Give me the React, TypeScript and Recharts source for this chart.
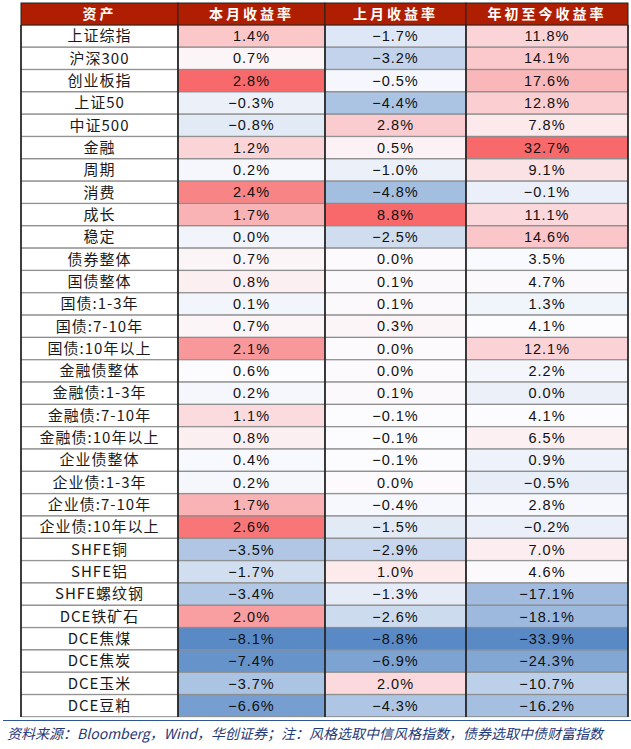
import { BarChart, Bar, XAxis, YAxis, Cell, LabelList, ReferenceLine } from "recharts";

const headers = ["资产", "本月收益率", "上月收益率", "年初至今收益率"];

const assets = [
  "上证综指", "沪深300", "创业板指", "上证50", "中证500", "金融", "周期", "消费", "成长", "稳定",
  "债券整体", "国债整体", "国债:1-3年", "国债:7-10年", "国债:10年以上", "金融债整体", "金融债:1-3年",
  "金融债:7-10年", "金融债:10年以上", "企业债整体", "企业债:1-3年", "企业债:7-10年", "企业债:10年以上",
  "SHFE铜", "SHFE铝", "SHFE螺纹钢", "DCE铁矿石", "DCE焦煤", "DCE焦炭", "DCE玉米", "DCE豆粕",
];

const thisMonth = [
  1.4, 0.7, 2.8, -0.3, -0.8, 1.2, 0.2, 2.4, 1.7, 0.0,
  0.7, 0.8, 0.1, 0.7, 2.1, 0.6, 0.2, 1.1, 0.8, 0.4, 0.2, 1.7, 2.6,
  -3.5, -1.7, -3.4, 2.0, -8.1, -7.4, -3.7, -6.6,
];

const lastMonth = [
  -1.7, -3.2, -0.5, -4.4, 2.8, 0.5, -1.0, -4.8, 8.8, -2.5,
  0.0, 0.1, 0.1, 0.3, 0.0, 0.0, 0.1, -0.1, -0.1, -0.1, 0.0, -0.4, -1.5,
  -2.9, 1.0, -1.3, -2.6, -8.8, -6.9, 2.0, -4.3,
];

const ytd = [
  11.8, 14.1, 17.6, 12.8, 7.8, 32.7, 9.1, -0.1, 11.1, 14.6,
  3.5, 4.7, 1.3, 4.1, 12.1, 2.2, 0.0, 4.1, 6.5, 0.9, -0.5, 2.8, -0.2,
  7.0, 4.6, -17.1, -18.1, -33.9, -24.3, -10.7, -16.2,
];

const footnote =
  "资料来源：Bloomberg，Wind，华创证券；注：风格选取中信风格指数，债券选取中债财富指数";

// layout
const W = 631;
const H = 749;
const M = { top: 3, right: 3, bottom: 32, left: 21 };
const HEAD_H = 22;
const COL_W = [157, 147, 141, 162];
const TOTAL = COL_W.reduce((a, b) => a + b, 0);
const EDGES = COL_W.reduce((acc, w) => [...acc, acc[acc.length - 1] + w], [0]);
const CENTERS = COL_W.map((w, i) => EDGES[i] + w / 2);

const rows = assets.map((name, i) => ({
  name,
  cur: thisMonth[i],
  prev: lastMonth[i],
  ytd: ytd[i],
}));

const w0 = () => COL_W[0];
const w1 = () => COL_W[1];
const w2 = () => COL_W[2];
const w3 = () => COL_W[3];

// excel-style 3 colour scale: min blue, median white, max red
const BLUE = [0x5a, 0x8a, 0xc6];
const WHITE = [0xfc, 0xfc, 0xff];
const RED = [0xf8, 0x69, 0x6b];

function mix(a: number[], b: number[], t: number) {
  const c = a.map((v, i) => Math.round(v + (b[i] - v) * t));
  return `rgb(${c[0]},${c[1]},${c[2]})`;
}

function scale(values: number[]) {
  const s = [...values].sort((a, b) => a - b);
  const min = s[0];
  const max = s[s.length - 1];
  const mid = s[Math.floor(s.length / 2)];
  return (v: number) =>
    v <= mid
      ? mix(BLUE, WHITE, mid === min ? 1 : (v - min) / (mid - min))
      : mix(WHITE, RED, (v - mid) / (max - mid));
}

const colCur = scale(thisMonth);
const colPrev = scale(lastMonth);
const colYtd = scale(ytd);

const fmt = (v: any) => `${Number(v).toFixed(1)}%`.replace("-", "−");

const numStyle = {
  fill: "#111",
  fontSize: 14.5,
  fontFamily: "Liberation Sans, Arial, sans-serif",
  letterSpacing: 1,
};

function HeaderTick(props: any) {
  const { x, index } = props;
  const w = COL_W[index];
  return (
    <g>
      <rect x={x - w / 2} y={M.top} width={w} height={HEAD_H} fill="#AF1E00" stroke="#222" strokeWidth={1} />
      <text
        x={x}
        y={M.top + HEAD_H / 2 + 1}
        textAnchor="middle"
        dominantBaseline="middle"
        fill="#fff"
        fontSize={14}
        fontWeight="bold"
        letterSpacing={3}
        fontFamily="Noto Sans CJK SC, sans-serif"
      >
        {headers[index]}
      </text>
    </g>
  );
}

export default function App() {
  return (
    <div style={{ position: "absolute", left: 0, top: 0, width: W, height: H, background: "#fff" }}>
      <BarChart
        width={W}
        height={H}
        data={rows}
        layout="vertical"
        margin={M}
        barCategoryGap={0}
      >
        <XAxis
          type="number"
          orientation="top"
          domain={[0, TOTAL]}
          ticks={CENTERS}
          interval={0}
          height={HEAD_H}
          axisLine={false}
          tickLine={false}
          tick={<HeaderTick />}
        />
        <XAxis
          xAxisId="bottom"
          type="number"
          orientation="bottom"
          domain={[0, TOTAL]}
          height={0}
          tick={false}
          tickLine={false}
          axisLine={{ stroke: "#111", strokeWidth: 1.5 }}
        />
        <YAxis type="category" dataKey="name" hide />
        <Bar dataKey={w0} stackId="t" fill="#fff" stroke="#8c8c8c" isAnimationActive={false}>
          <LabelList
            dataKey="name"
            position="center"
            fill="#1a1a1a"
            fontSize={15}
            letterSpacing={1}
            fontFamily="Noto Sans CJK SC, sans-serif"
          />
        </Bar>
        <Bar dataKey={w1} stackId="t" stroke="#8c8c8c" isAnimationActive={false}>
          {rows.map((r, i) => (
            <Cell key={i} fill={colCur(r.cur)} />
          ))}
          <LabelList dataKey="cur" position="center" formatter={fmt} {...numStyle} />
        </Bar>
        <Bar dataKey={w2} stackId="t" stroke="#8c8c8c" isAnimationActive={false}>
          {rows.map((r, i) => (
            <Cell key={i} fill={colPrev(r.prev)} />
          ))}
          <LabelList dataKey="prev" position="center" formatter={fmt} {...numStyle} />
        </Bar>
        <Bar dataKey={w3} stackId="t" stroke="#8c8c8c" isAnimationActive={false}>
          {rows.map((r, i) => (
            <Cell key={i} fill={colYtd(r.ytd)} />
          ))}
          <LabelList dataKey="ytd" position="center" formatter={fmt} {...numStyle} />
        </Bar>
        {EDGES.map((e) => (
          <ReferenceLine key={e} x={e} stroke="#111" strokeWidth={1.5} ifOverflow="extendDomain" />
        ))}
      </BarChart>
      <div
        style={{
          position: "absolute",
          left: 3,
          top: H - M.bottom + 3,
          width: W - 3,
          borderTop: "1.5px solid #2F5597",
        }}
      />
      <div
        style={{
          position: "absolute",
          left: 7,
          top: H - M.bottom + 6,
          fontStyle: "italic",
          fontSize: 14,
          color: "#1F3A78",
          whiteSpace: "nowrap",
          fontFamily: "Noto Sans CJK SC, sans-serif",
        }}
      >
        {footnote}
      </div>
    </div>
  );
}
